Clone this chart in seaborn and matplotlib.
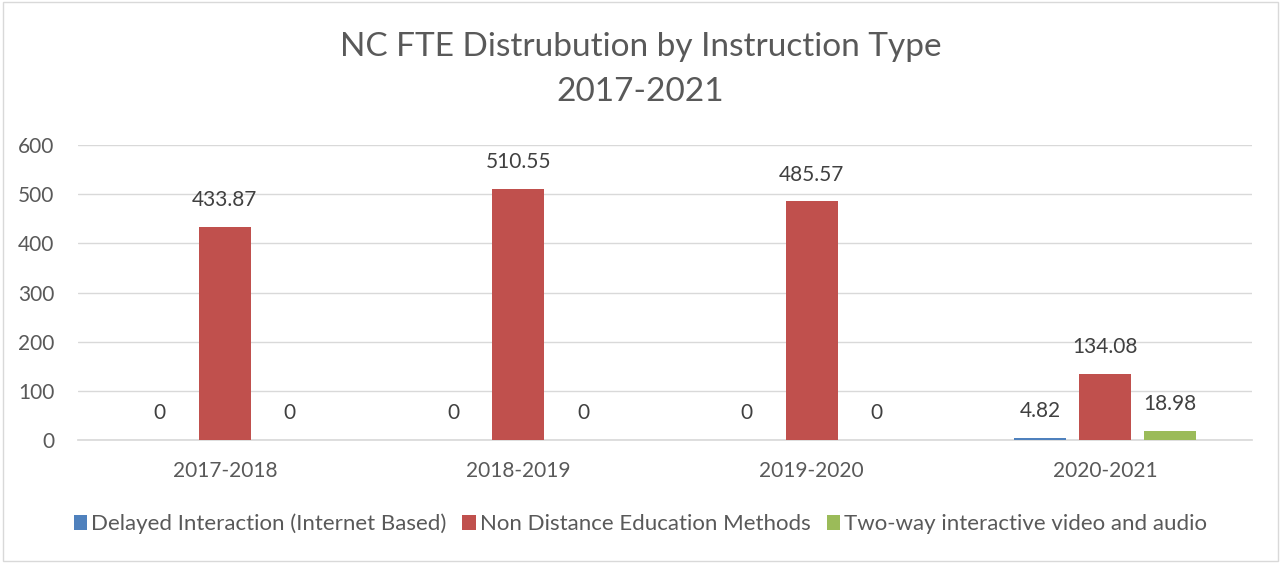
"""NC FTE distribution by instruction type, grouped bar chart."""

import matplotlib.pyplot as plt
import pandas as pd
import seaborn as sns
from matplotlib.patches import Rectangle

years = ["2017-2018", "2018-2019", "2019-2020", "2020-2021"]
delayed_interaction = [0, 0, 0, 4.82]
non_distance = [433.87, 510.55, 485.57, 134.08]
two_way_video = [0, 0, 0, 18.98]
series_names = [
    "Delayed Interaction (Internet Based)",
    "Non Distance Education Methods",
    "Two-way interactive video and audio",
]
colors = ["#4F81BD", "#C0504D", "#9BBB59"]

TEXT = "#595959"

sns.set_theme(style="white")
plt.rcParams["font.family"] = ["Lato", "DejaVu Sans"]


def main() -> None:
    df = pd.DataFrame(
        {
            "Year": years * 3,
            "Type": [series_names[0]] * 4 + [series_names[1]] * 4 + [series_names[2]] * 4,
            "FTE": delayed_interaction + non_distance + two_way_video,
        }
    )

    fig = plt.figure(figsize=(12.81, 5.63), dpi=100)
    ax = fig.add_axes([78 / 1281, 1 - 440 / 563, 1174 / 1281, 295 / 563])

    sns.barplot(
        data=df,
        x="Year",
        y="FTE",
        hue="Type",
        palette=colors,
        width=0.663,
        gap=0.2,
        saturation=1,
        linewidth=0,
        ax=ax,
        legend=True,
    )

    for container in ax.containers:
        ax.bar_label(container, fmt="{:g}", padding=12, fontsize=15, color="#404040")

    ax.set_ylim(0, 600)
    ax.set_xlim(-0.5, 3.5)
    ax.set_yticks(range(0, 601, 100))
    ax.yaxis.grid(True, color="#D9D9D9", linewidth=1)
    ax.set_axisbelow(True)
    for side in ["top", "right", "left"]:
        ax.spines[side].set_visible(False)
    ax.spines["bottom"].set_color("#D9D9D9")
    ax.spines["bottom"].set_zorder(0)
    ax.tick_params(axis="both", length=0, labelsize=15, labelcolor=TEXT)
    ax.tick_params(axis="x", pad=15)
    ax.tick_params(axis="y", pad=17)
    ax.set_xlabel("")
    ax.set_ylabel("")

    ax.legend(
        loc="center",
        bbox_to_anchor=(0.5, 1 - 524 / 563),
        bbox_transform=fig.transFigure,
        ncol=3,
        frameon=False,
        fontsize=16,
        labelcolor=TEXT,
        handlelength=0.6,
        handleheight=0.6,
        handletextpad=0.2,
        columnspacing=0.7,
    )

    fig.text(0.5, 1 - 47 / 563, "NC FTE Distrubution by Instruction Type",
             ha="center", va="center", fontsize=24, color=TEXT)
    fig.text(0.5, 1 - 92 / 563, "2017-2021",
             ha="center", va="center", fontsize=24, color=TEXT)

    fig.patches.append(
        Rectangle((0.002, 0.004), 0.996, 0.993, transform=fig.transFigure,
                  fill=False, edgecolor="#D9D9D9", linewidth=1)
    )

    fig.savefig("out.png", dpi=100, facecolor="white")
    plt.close(fig)


if __name__ == "__main__":
    main()
